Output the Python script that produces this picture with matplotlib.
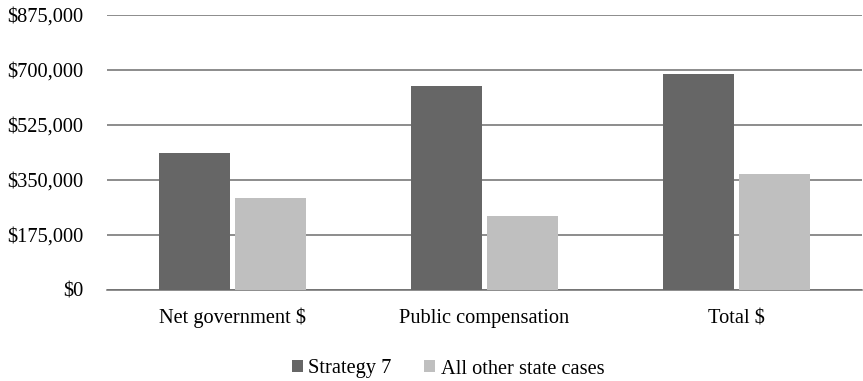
import matplotlib
matplotlib.use("Agg")
import matplotlib.pyplot as plt
from matplotlib.ticker import FuncFormatter, MultipleLocator
from matplotlib.patches import Patch
import numpy as np

plt.rcParams['font.family'] = ['Liberation Serif', 'DejaVu Serif']

categories = ["Net government $", "Public compensation", "Total $"]
strategy7 = [435000, 647500, 686000]
other_cases = [291000, 234000, 367500]
series_names = ["Strategy 7", "All other state cases"]
colors = ["#666666", "#bfbfbf"]

fig = plt.figure(figsize=(8.63, 3.81), dpi=100)
ax = fig.add_axes([107 / 863, 1 - 289.5 / 381, 755 / 863, 274.5 / 381])

x = np.arange(len(categories))
w = 0.282
gap = 0.01
ax.bar(x - w / 2 - gap, strategy7, width=w, color=colors[0], zorder=3)
ax.bar(x + w / 2 + gap, other_cases, width=w, color=colors[1], zorder=3)

ax.set_xlim(-0.5, len(categories) - 0.5)
ax.set_ylim(0, 875000)
ax.yaxis.set_major_locator(MultipleLocator(175000))
ax.yaxis.set_major_formatter(FuncFormatter(lambda v, p: f"${v:,.0f}"))
ax.grid(axis="y", color="#6e6e6e", linewidth=1.1, zorder=0)
ax.set_xticks(x)
ax.set_xticklabels(categories)
ax.tick_params(axis="both", length=0, labelsize=14.7, colors="#000000")
ax.tick_params(axis="x", pad=24.3)
ax.tick_params(axis="y", pad=17)
for lbl in ax.get_xticklabels():
    lbl.set_verticalalignment("baseline")
for s in ["top", "right", "left"]:
    ax.spines[s].set_visible(False)
ax.spines["bottom"].set_color("#6e6e6e")
ax.spines["bottom"].set_linewidth(1.1)

handles = [Patch(facecolor=c, edgecolor="none") for c in colors]
fig.legend(handles, series_names, loc="center", bbox_to_anchor=(448 / 863, 1 - 369 / 381),
           ncol=2, frameon=False, fontsize=14.7, handlelength=0.55, handleheight=0.55,
           handletextpad=0.25, columnspacing=1.6, borderpad=0)

fig.savefig("out.png", dpi=100)
